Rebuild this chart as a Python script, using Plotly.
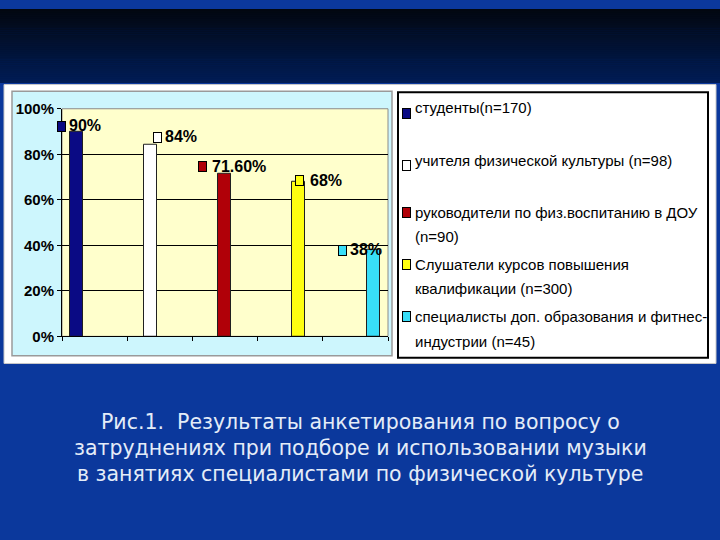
import plotly.graph_objects as go
import numpy as np

# ---------------- data ----------------
groups = [
    "студенты(n=170)",
    "учителя физической культуры (n=98)",
    "руководители по физ.воспитанию в ДОУ<br>(n=90)",
    "Слушатели курсов повышения<br>квалификации (n=300)",
    "специалисты доп. образования и фитнес-<br>индустрии (n=45)",
]
values = [0.90, 0.84, 0.716, 0.68, 0.38]
value_labels = ["90%", "84%", "71.60%", "68%", "38%"]
y_ticks = [0, 0.2, 0.4, 0.6, 0.8, 1.0]
caption_lines = [
    "Рис.1.  Результаты анкетирования по вопросу о",
    "затруднениях при подборе и использовании музыки",
    "в занятиях специалистами по физической культуре",
]

# ---------------- style ----------------
colors = ["#0a0a84", "#ffffff", "#b00008", "#ffff10", "#38def8"]
W, H = 720, 540
FONT = "Liberation Sans, Arial"
# label offsets relative to bar top (pixels): key box shift, text shift
key_shift = [(-15, 5), (7, 8), (-22, 7), (1, 1), (-31, -1)]
txt_shift = [(-9, 6), (13, 9), (-15, 7), (9, 1), (-25, 0)]

def px(x):
    return x / W

def py(y):
    return 1 - y / H

def mix(c1, c2, t):
    a = [int(c1[k:k + 2], 16) for k in (1, 3, 5)]
    b = [int(c2[k:k + 2], 16) for k in (1, 3, 5)]
    return "#" + "".join("%02x" % round(a[k] + (b[k] - a[k]) * t) for k in range(3))

x_range = [-0.19, 4.2]

fig = go.Figure()
fig.add_trace(go.Bar(
    x=list(range(len(values))), y=values, width=0.175,
    marker=dict(color=colors, line=dict(color="#202020", width=1)),
    showlegend=False, hoverinfo="skip",
))

shapes = []
# top dark gradient
n = 38
for i in range(n):
    c = mix("#020710", "#011c55", i / (n - 1))
    shapes.append(dict(type="rect", xref="paper", yref="paper", layer="below",
                       x0=0, x1=1, y0=py(76 * (i + 1) / n + 0.5), y1=py(76 * i / n),
                       fillcolor=c, line=dict(width=0)))
# white frame
shapes.append(dict(type="rect", xref="paper", yref="paper", layer="below",
                   x0=px(4), x1=px(716), y0=py(366), y1=py(78),
                   fillcolor="#ffffff", line=dict(color="#c8c8c8", width=1)))
# cyan chart area
shapes.append(dict(type="rect", xref="paper", yref="paper", layer="below",
                   x0=px(12), x1=px(392), y0=py(358), y1=py(85),
                   fillcolor="#cdf6fd", line=dict(color="#9a9a9a", width=1.5)))
# plot area (yellow wall)
shapes.append(dict(type="rect", xref="x domain", yref="y domain", layer="below",
                   x0=0, x1=1, y0=0, y1=1, fillcolor="#ffffcc",
                   line=dict(color="#8a8a8a", width=1)))
# legend box
shapes.append(dict(type="rect", xref="paper", yref="paper", layer="below",
                   x0=px(398), x1=px(708), y0=py(360), y1=py(86),
                   fillcolor="#ffffff", line=dict(color="#000000", width=2)))

annotations = []
# data labels with keys
for i, (v, lab) in enumerate(zip(values, value_labels)):
    annotations.append(dict(x=i, y=v, xref="x", yref="y", text=" ", showarrow=False,
                            xshift=key_shift[i][0], yshift=key_shift[i][1],
                            width=7, height=9, bgcolor=colors[i],
                            bordercolor="#000000", borderwidth=1, borderpad=0,
                            font=dict(size=6)))
    annotations.append(dict(x=i, y=v, xref="x", yref="y", text="<b>" + lab + "</b>",
                            showarrow=False, xanchor="left",
                            xshift=txt_shift[i][0], yshift=txt_shift[i][1],
                            font=dict(family=FONT, size=16, color="#000000")))

# manual legend
for i, name in enumerate(groups):
    y0 = 102 + 54 * i
    annotations.append(dict(x=px(406.5), y=py(y0), xref="paper", yref="paper", text=" ",
                            showarrow=False, width=7, height=9, bgcolor=colors[i],
                            bordercolor="#000000", borderwidth=1, borderpad=0,
                            font=dict(size=6)))
    for j, line in enumerate(name.split("<br>")):
        annotations.append(dict(x=px(413), y=py(y0 + 25 * j), xref="paper", yref="paper",
                                text=line, showarrow=False, xanchor="left", yanchor="middle",
                                font=dict(family=FONT, size=15, color="#000000")))

# caption
for j, line in enumerate(caption_lines):
    annotations.append(dict(x=0.5, y=py(426 + 27 * j), xref="paper", yref="paper", text=line,
                            showarrow=False, xanchor="center", yanchor="middle",
                            font=dict(family="DejaVu Sans", size=20.5, color="#e4ecf8")))

fig.update_layout(
    width=W, height=H, margin=dict(l=0, r=0, t=0, b=0),
    paper_bgcolor="#0b389c", plot_bgcolor="#ffffcc",
    shapes=shapes, annotations=annotations, bargap=0,
    xaxis=dict(domain=[px(62), px(388)], range=x_range, showgrid=False, zeroline=False,
               showline=True, linecolor="#000000", linewidth=1,
               tickmode="array", tickvals=list(np.linspace(x_range[0], x_range[1], 6)),
               ticktext=[""] * 6, ticks="outside", ticklen=4, tickcolor="#000000"),
    yaxis=dict(domain=[py(338), py(103)], range=[0, 1], tickvals=y_ticks, tickformat=".0%",
               showgrid=True, gridcolor="#000000", gridwidth=1, zeroline=False,
               showline=True, linecolor="#000000", linewidth=1,
               ticks="outside", ticklen=4, tickcolor="#000000",
               tickfont=dict(family=FONT, size=15, color="#000000", weight="bold")),
)

fig.write_html("out.html", config={"displayModeBar": False},
               post_script="document.body.style.margin='0';document.body.style.padding='0';")
